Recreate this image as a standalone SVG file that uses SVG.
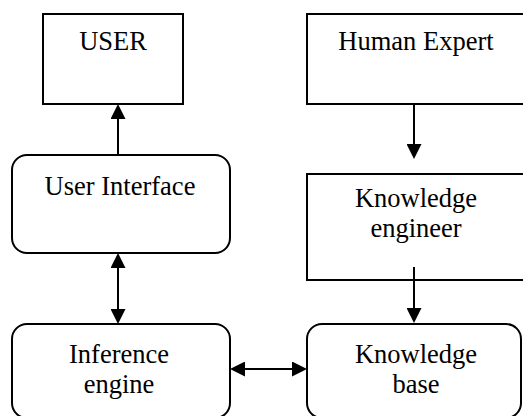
<svg xmlns="http://www.w3.org/2000/svg" width="523" height="416" viewBox="0 0 523 416">
  <style>
    .box { fill: #ffffff; stroke: #000000; stroke-width: 2; }
    .lbl { font-family: "Liberation Serif", "Times New Roman", serif; font-size: 26.5px; fill: #000000; text-anchor: middle; }
    .link { stroke: #000000; stroke-width: 2; fill: none; }
  </style>
  <defs>
    <!-- solid triangular head; tip sits 4px past the line end -->
    <marker id="head" markerUnits="userSpaceOnUse" markerWidth="15" markerHeight="15" viewBox="0 0 15 15" refX="11" refY="7.5" orient="auto-start-reverse">
      <path d="M0,0 L15,7.5 L0,15 z" fill="#000000"/>
    </marker>
  </defs>
  <rect width="523" height="416" fill="#ffffff"/>

  <g id="user">
    <rect class="box" x="43" y="14" width="140" height="90"/>
    <text class="lbl" x="113" y="50">USER</text>
  </g>
  <g id="human-expert">
    <rect class="box" x="307" y="14" width="240" height="90"/>
    <text class="lbl" x="416" y="50">Human Expert</text>
  </g>
  <g id="user-interface">
    <rect class="box" x="12" y="155" width="218" height="98" rx="15"/>
    <text class="lbl" x="120" y="195">User Interface</text>
  </g>
  <g id="knowledge-engineer">
    <rect class="box" x="307" y="174" width="240" height="106"/>
    <text class="lbl" x="416" y="207">Knowledge</text>
    <text class="lbl" x="416" y="237">engineer</text>
  </g>
  <g id="inference-engine">
    <rect class="box" x="12" y="324" width="218" height="94" rx="15"/>
    <text class="lbl" x="119" y="363">Inference</text>
    <text class="lbl" x="119" y="393">engine</text>
  </g>
  <g id="knowledge-base">
    <rect class="box" x="307" y="324" width="214" height="94" rx="15"/>
    <text class="lbl" x="416" y="363">Knowledge</text>
    <text class="lbl" x="416" y="393">base</text>
  </g>

  <g id="connectors">
    <line class="link" x1="118" y1="155" x2="118" y2="108" marker-end="url(#head)"/>
    <line class="link" x1="414" y1="104" x2="414" y2="155" marker-end="url(#head)"/>
    <line class="link" x1="118" y1="257" x2="118" y2="320" marker-start="url(#head)" marker-end="url(#head)"/>
    <line class="link" x1="414" y1="267" x2="414" y2="319" marker-end="url(#head)"/>
    <line class="link" x1="234" y1="369" x2="303" y2="369" marker-start="url(#head)" marker-end="url(#head)"/>
  </g>
</svg>
